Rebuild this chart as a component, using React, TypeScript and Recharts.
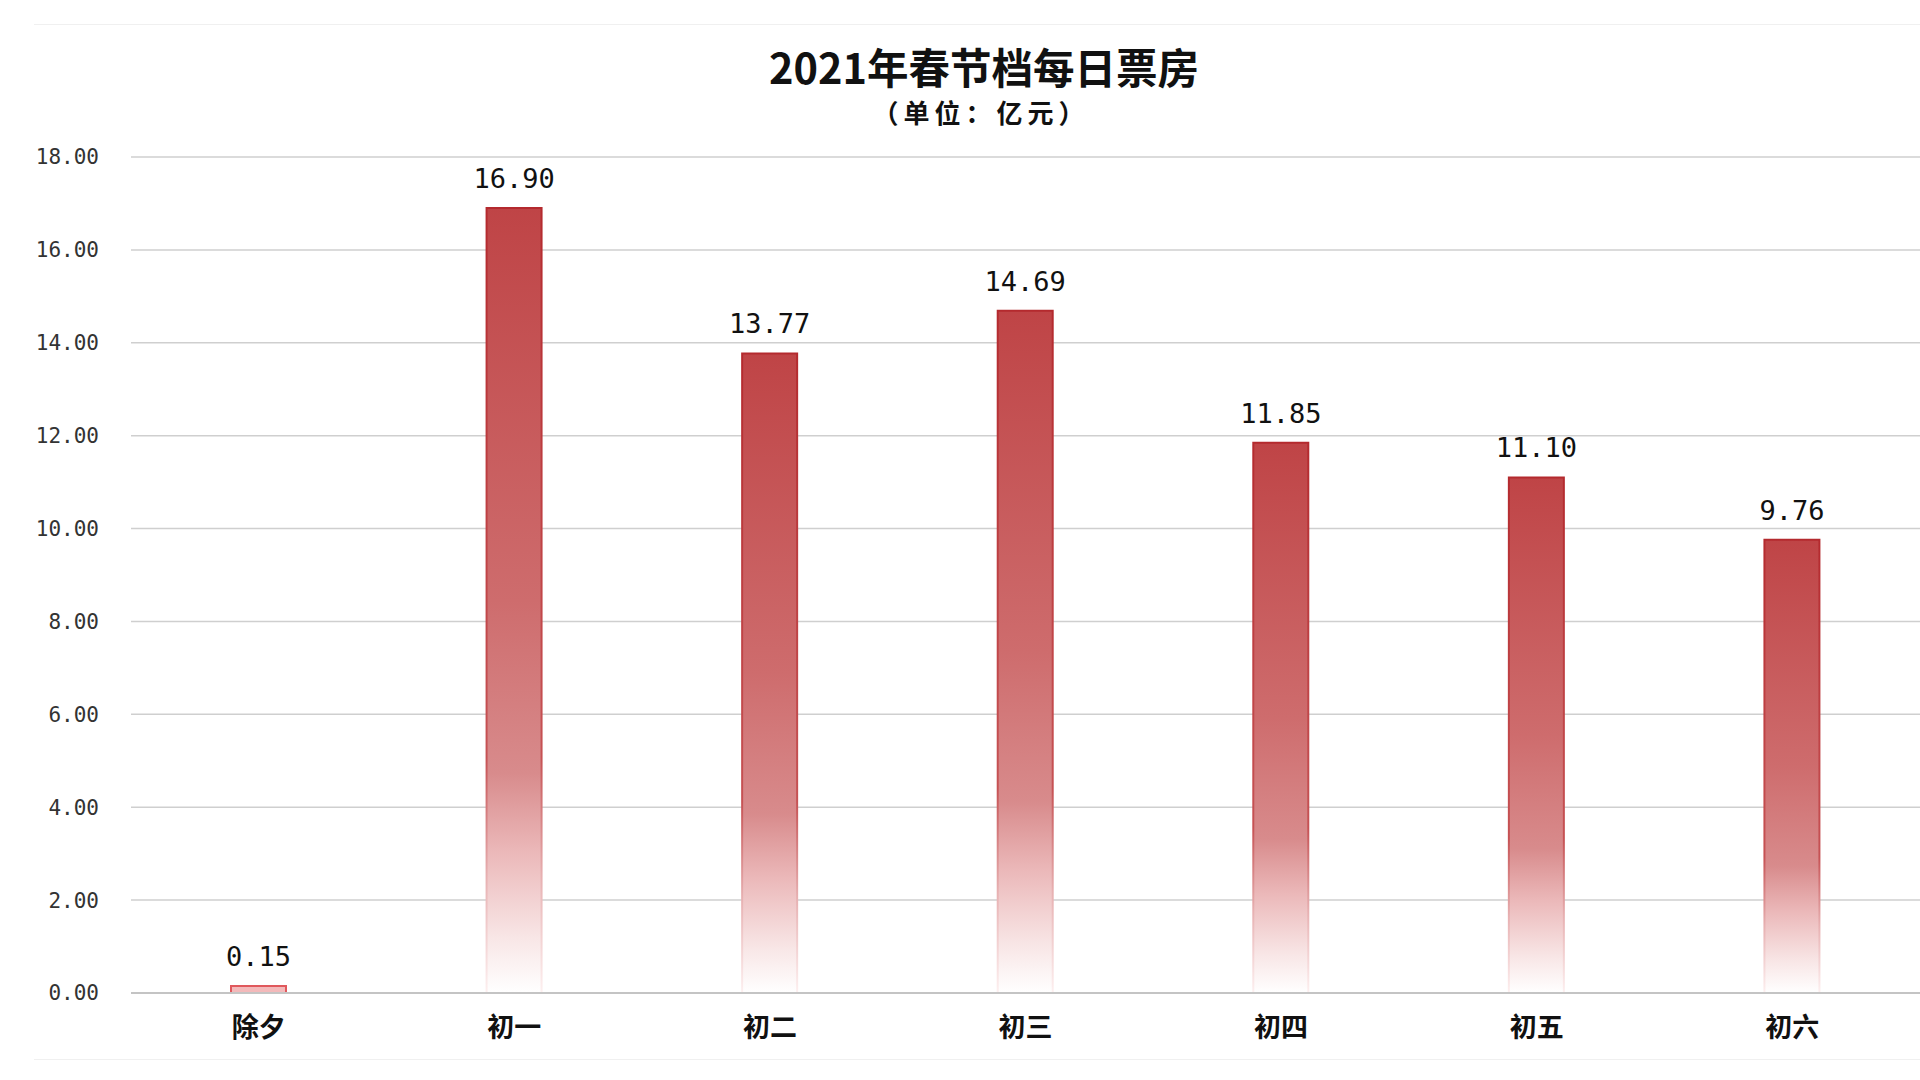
import { BarChart, Bar, XAxis, YAxis, CartesianGrid, LabelList, Cell } from 'recharts';

// 2021年春节档每日票房（亿元）
const days = ['除夕', '初一', '初二', '初三', '初四', '初五', '初六'];
const boxOffice = [0.15, 16.9, 13.77, 14.69, 11.85, 11.1, 9.76];
const yTicks = [0, 2, 4, 6, 8, 10, 12, 14, 16, 18];

const data = days.map((day, i) => ({ day, value: boxOffice[i] }));

const numFont = '"DejaVu Sans Mono", "Liberation Mono", monospace';
const cjkFont = '"Noto Sans CJK SC", "Noto Sans", sans-serif';

export default function App() {
    return (
        <div
            style={{
                position: 'absolute',
                left: 0,
                top: 0,
                width: 1920,
                height: 1080,
                background: '#ffffff',
                overflow: 'hidden',
            }}
        >
            {/* faint frame lines */}
            <div style={{ position: 'absolute', left: 34, right: 0, top: 24, borderTop: '1px solid #f0f0f0' }} />
            <div style={{ position: 'absolute', left: 34, right: 0, top: 1059, borderTop: '1px solid #f0f0f0' }} />

            <div
                style={{
                    position: 'absolute',
                    left: 0,
                    width: 1968,
                    top: 41,
                    textAlign: 'center',
                    fontFamily: cjkFont,
                    fontWeight: 700,
                    fontSize: 41.5,
                    lineHeight: '50px',
                    color: '#111',
                }}
            >
                2021年春节档每日票房
            </div>
            <div
                style={{
                    position: 'absolute',
                    left: 0,
                    width: 1962,
                    top: 96,
                    textAlign: 'center',
                    fontFamily: cjkFont,
                    fontWeight: 700,
                    fontSize: 26,
                    letterSpacing: 5,
                    lineHeight: '32px',
                    color: '#111',
                }}
            >
                （单位：亿元）
            </div>

            <div style={{ position: 'absolute', left: 0, top: 0 }}>
                <BarChart
                    width={1920}
                    height={1080}
                    data={data}
                    margin={{ top: 157, right: 0, bottom: 57, left: 0 }}
                    barCategoryGap={0}
                >
                    <defs>
                        <linearGradient id="barFill" x1="0" y1="0" x2="0" y2="1">
                            <stop offset="0" stopColor="#bf4446" />
                            <stop offset="0.5" stopColor="#ce6c6d" />
                            <stop offset="0.72" stopColor="#d88b8c" />
                            <stop offset="0.82" stopColor="#ebb8b9" />
                            <stop offset="0.93" stopColor="#f8e6e6" />
                            <stop offset="1" stopColor="#ffffff" />
                        </linearGradient>
                        <linearGradient id="barStroke" x1="0" y1="0" x2="0" y2="1">
                            <stop offset="0" stopColor="#b42a2e" />
                            <stop offset="0.7" stopColor="#c65254" />
                            <stop offset="0.85" stopColor="#e7b0b1" />
                            <stop offset="1" stopColor="#fdf0f0" />
                        </linearGradient>
                    </defs>
                    <CartesianGrid vertical={false} stroke="#cfcfcf" strokeWidth={1.5} />
                    <XAxis
                        dataKey="day"
                        height={30}
                        tickLine={false}
                        tickSize={0}
                        tickMargin={25}
                        axisLine={{ stroke: '#c4c4c4', strokeWidth: 2 }}
                        tick={{ fontSize: 27, fill: '#111', fontFamily: cjkFont, fontWeight: 700 }}
                    />
                    <YAxis
                        width={131}
                        domain={[0, 18]}
                        ticks={yTicks}
                        interval={0}
                        axisLine={false}
                        tickLine={false}
                        tickSize={0}
                        tickMargin={32}
                        tickFormatter={(v: number) => v.toFixed(2)}
                        tick={{ fontSize: 21, fill: '#333', fontFamily: numFont }}
                    />
                    <Bar
                        dataKey="value"
                        barSize={55}
                        fill="url(#barFill)"
                        stroke="url(#barStroke)"
                        strokeWidth={2}
                        isAnimationActive={false}
                    >
                        {data.map((d) => (
                            <Cell
                                key={d.day}
                                fill={d.value < 1 ? '#f3b9ba' : 'url(#barFill)'}
                                stroke={d.value < 1 ? '#e0585c' : 'url(#barStroke)'}
                            />
                        ))}
                        <LabelList
                            dataKey="value"
                            position="top"
                            offset={20}
                            formatter={(v: number) => v.toFixed(2)}
                            style={{ fontSize: 27, fill: '#111', fontFamily: numFont }}
                        />
                    </Bar>
                </BarChart>
            </div>
        </div>
    );
}
